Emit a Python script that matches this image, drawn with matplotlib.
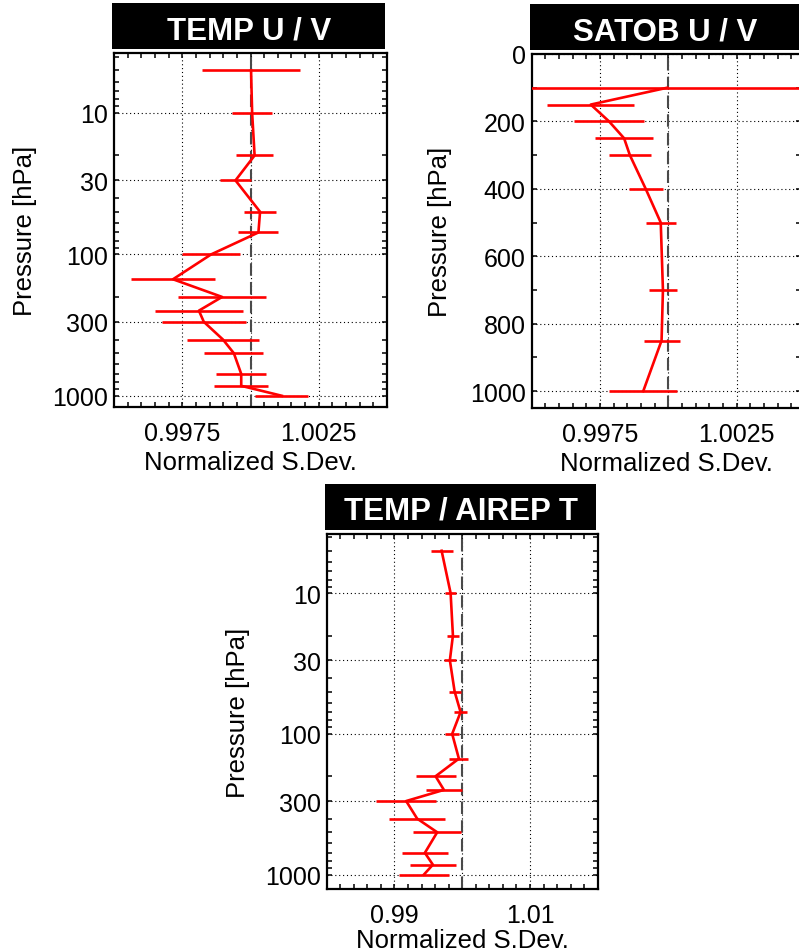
import numpy as np
import matplotlib
matplotlib.use('Agg')
import matplotlib.pyplot as plt
from matplotlib.patches import Rectangle
from matplotlib.ticker import MultipleLocator, NullFormatter

plt.rcParams['font.family'] = ['Liberation Sans', 'DejaVu Sans']

# ---- data ----
temp_uv_p = [5, 10, 20, 30, 50, 70, 100, 150, 200, 250, 300, 400, 500, 700, 850, 1000]
temp_uv_sd = [1.00002, 1.00006, 1.00015, 0.99945, 1.00035, 1.00029, 0.99856, 0.99716,
              0.99896, 0.99811, 0.99829, 0.99899, 0.99939, 0.99966, 0.99966, 1.00115]
temp_uv_err = [0.00181, 0.00074, 0.00067, 0.00057, 0.00059, 0.00073, 0.00107, 0.00154,
               0.00160, 0.00162, 0.00153, 0.00131, 0.00108, 0.00091, 0.00098, 0.00097]

satob_p = [100, 150, 200, 250, 300, 400, 500, 700, 850, 1000]
satob_sd = [0.99996, 0.99716, 0.99783, 0.99838, 0.99859, 0.99917, 0.99972, 0.99980, 0.99975, 0.99908]
satob_err = [0.02, 0.00159, 0.00128, 0.00106, 0.00076, 0.00062, 0.00055, 0.00051, 0.00066, 0.00125]

airep_p = [5, 10, 20, 30, 50, 70, 100, 150, 200, 250, 300, 400, 500, 700, 850, 1000]
airep_sd = [0.99696, 0.99829, 0.99863, 0.99818, 0.99888, 0.99976, 0.99852, 0.99951,
            0.99607, 0.99730, 0.99173, 0.99335, 0.99631, 0.99449, 0.99567, 0.99434]
airep_err = [0.00162, 0.00086, 0.00089, 0.00086, 0.00087, 0.00091, 0.00105, 0.00140,
             0.00295, 0.00270, 0.00440, 0.00410, 0.00350, 0.00340, 0.00340, 0.00370]

log_major = [10, 30, 100, 300, 1000]
log_minor = [4, 5, 6, 7, 8, 9, 20, 40, 50, 60, 70, 80, 90, 200, 400, 500, 600, 700, 800, 900]

W, H = 799, 953
fig = plt.figure(figsize=(W / 100, H / 100), dpi=100)


def add_ax(x0, y0, x1, y1):
    ax = fig.add_axes([x0 / W, 1 - y1 / H, (x1 - x0) / W, (y1 - y0) / H])
    return ax, (x1 - x0), (y1 - y0)


def panel(ax, wpx, hpx, p, sd, err, title, ylab_x, xlab_y=-43):
    ax.axvline(1.0, color='#4a4a4a', lw=1.5, dashes=(6, 3), zorder=2)
    ax.errorbar(sd, p, xerr=err, color='red', lw=1.9, elinewidth=1.9, capsize=0, zorder=3)
    ax.grid(True, which='major', color='black', lw=0.8, linestyle=(0, (1, 2.5)))
    for s in ax.spines.values():
        s.set_linewidth(1.6)
    ax.tick_params(which='both', direction='in', top=True, right=True,
                   length=3.8, width=1.1, labelsize=18)
    ax.tick_params(axis='x', pad=10)
    ax.tick_params(axis='y', pad=4.2)
    ax.set_xlabel('Normalized S.Dev.', fontsize=18.5, va='top')
    ax.xaxis.set_label_coords(0.5, xlab_y / hpx)
    ax.set_ylabel('Pressure [hPa]', fontsize=18.5)
    ax.yaxis.set_label_coords(ylab_x / wpx, 0.5)
    # black title box above the frame
    ax.add_patch(Rectangle((-2 / wpx, 4 / hpx + 1), 1.0, 46 / hpx, transform=ax.transAxes,
                           facecolor='black', edgecolor='none', clip_on=False))
    ax.text(0.5 - 1 / wpx, 1 + 15 / hpx, title, transform=ax.transAxes, ha='center',
            va='baseline', color='white', fontsize=22.5, fontweight='bold')


# TEMP U / V
ax1, w1, h1 = add_ax(114, 54, 387, 408)
panel(ax1, w1, h1, temp_uv_p, temp_uv_sd, temp_uv_err, 'TEMP U / V', -77)
ax1.set_yscale('log')
ax1.set_yticks(log_major, [str(v) for v in log_major])
ax1.set_yticks(log_minor, minor=True)
ax1.yaxis.set_minor_formatter(NullFormatter())
ax1.set_ylim(1200, 3.77)
ax1.set_xlim(0.995, 1.005)
ax1.set_xticks([0.9975, 1.0, 1.0025], ['0.9975', '', '1.0025'])
ax1.xaxis.set_minor_locator(MultipleLocator(0.0005))

# SATOB U / V (cut off by the right edge of the picture)
ax2, w2, h2 = add_ax(531.7, 55, 801, 409)
panel(ax2, w2, h2, satob_p, satob_sd, satob_err, 'SATOB U / V', -80)
ax2.set_ylim(1050, 0)
ax2.set_yticks(range(0, 1001, 200))
ax2.yaxis.set_minor_locator(MultipleLocator(100))
ax2.set_xlim(0.995, 1.00485)
ax2.set_xticks([0.9975, 1.0, 1.0025], ['0.9975', '', '1.0025'])
ax2.xaxis.set_minor_locator(MultipleLocator(0.0005))

# TEMP / AIREP T
ax3, w3, h3 = add_ax(326.7, 535, 597.7, 890)
panel(ax3, w3, h3, airep_p, airep_sd, airep_err, 'TEMP / AIREP T', -77, xlab_y=-39)
ax3.set_yscale('log')
ax3.set_yticks(log_major, [str(v) for v in log_major])
ax3.set_yticks(log_minor, minor=True)
ax3.yaxis.set_minor_formatter(NullFormatter())
ax3.set_ylim(1265, 3.8)
ax3.set_xlim(0.98, 1.02)
ax3.set_xticks([0.99, 1.0, 1.01], ['0.99', '', '1.01'])
ax3.xaxis.set_minor_locator(MultipleLocator(0.002))

fig.savefig('out.png', dpi=100)
